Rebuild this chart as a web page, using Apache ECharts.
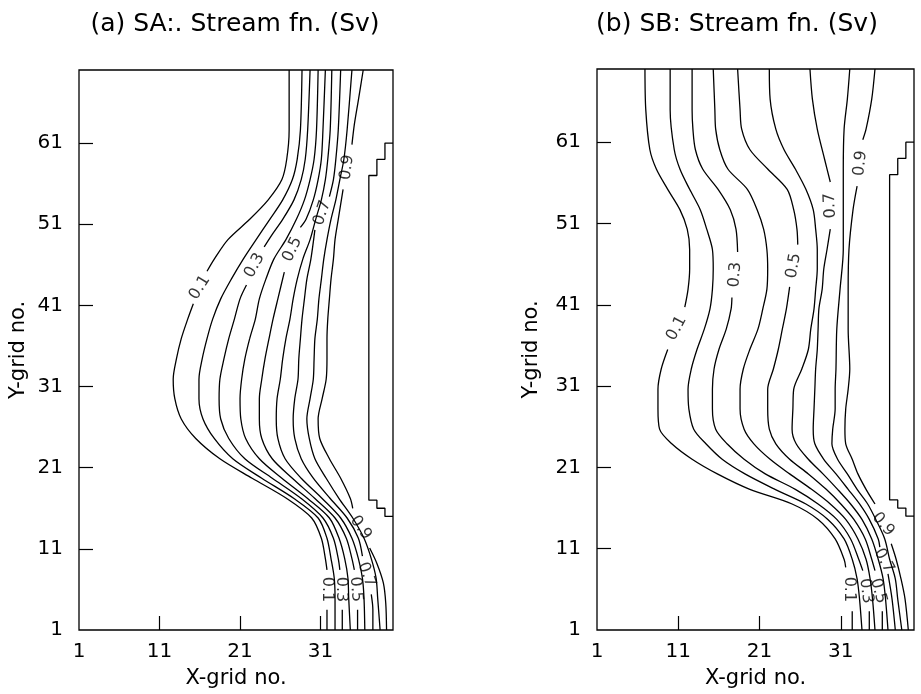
<!DOCTYPE html>
<html>
<head>
<meta charset="utf-8">
<title>Stream fn. (Sv)</title>
<script src="https://cdn.jsdelivr.net/npm/echarts@6/dist/echarts.min.js"></script>
<style>
  html, body { margin: 0; padding: 0; background: #fff; }
  #chart { width: 921px; height: 694px; }
</style>
</head>
<body>
<div id="chart"></div>
<script>
// axis ranges and tick labels (grid numbers)
const xRange = [1, 40];
const yRange = [1, 70];
const xTicks = [1, 11, 21, 31];
const yTicks = [1, 11, 21, 31, 41, 51, 61];

// contours of panel (a), [x, y] in grid numbers, null = gap for a label
const sa01 = [[27.1,70],[27.1,62.6],[26.8,59.0],[26.2,56.5],[24.5,54.0],[22.2,51.6],[19.5,49.1],[17.8,46.7],[16.9,45.2],null,[15.2,41.2],[14.5,39.3],[13.7,36.9],[13.1,34.4],[12.7,31.9],[12.9,29.5],[13.7,27.0],[15.5,24.6],[18.5,22.1],[22.5,19.7],[26.8,17.2],[29.9,14.8],[31.1,12.3],[31.6,9.8],[31.8,8.4],null,[31.8,3.5],[31.8,1]];
const sa02 = [[28.7,70],[28.5,62.6],[28.1,59.0],[27.5,56.5],[26.3,54.0],[24.7,51.6],[23.0,49.1],[21.4,46.7],[19.9,44.2],[18.6,41.8],[17.6,39.3],[16.9,36.9],[16.3,34.4],[15.9,31.9],[15.9,29.5],[16.4,27.0],[17.8,24.6],[20.1,22.1],[23.7,19.7],[27.7,17.2],[30.7,14.8],[31.8,12.3],[32.3,9.8],[32.7,7.4],[32.8,4.9],[32.8,1]];
const sa03 = [[29.7,70],[29.4,62.6],[29.1,59.0],[28.6,56.5],[27.7,54.0],[26.3,51.6],[24.9,49.6],[24.0,48.2],null,[21.8,43.5],[21.0,41.8],[20.3,39.3],[19.6,36.9],[19.0,34.4],[18.5,31.9],[18.4,29.5],[18.6,27.0],[19.6,24.6],[21.6,22.1],[25.0,19.7],[28.6,17.2],[31.3,14.8],[32.6,12.3],[33.2,9.8],[33.4,8.4],null,[33.7,3.5],[33.7,1]];
const sa04 = [[30.7,70],[30.5,62.6],[30.2,59.0],[29.7,56.5],[29.0,54.0],[28.0,51.6],[26.7,49.1],[25.2,46.7],[24.2,44.2],[23.4,41.8],[22.9,39.3],[22.2,36.9],[21.6,34.4],[21.2,31.9],[21.0,29.5],[21.1,27.0],[21.7,24.6],[23.4,22.1],[26.2,19.7],[29.4,17.2],[32.1,14.8],[33.3,12.3],[34.0,9.8],[34.4,7.4],[34.5,4.9],[34.7,1]];
const sa05 = [[31.6,70],[31.3,62.6],[31.1,59.0],[30.7,56.5],[30.1,54.0],[29.2,51.6],[28.5,50.6],null,[26.5,45.1],[25.7,41.8],[25.1,39.3],[24.6,36.9],[24.1,34.4],[23.7,31.9],[23.4,29.5],[23.4,27.0],[23.7,24.6],[25.0,22.1],[27.5,19.7],[30.3,17.2],[32.8,14.8],[34.2,12.3],[34.9,9.8],[35.2,8.4],null,[35.6,3.5],[35.6,1]];
const sa06 = [[32.4,70],[32.2,62.6],[31.9,59.0],[31.6,56.5],[31.1,54.0],[30.4,51.6],[29.7,49.1],[28.8,46.7],[28.1,44.2],[27.6,41.8],[27.2,39.3],[26.7,36.9],[26.3,34.4],[26.0,31.9],[25.6,29.5],[25.5,27.0],[25.7,24.6],[26.6,22.1],[28.6,19.7],[31.2,17.2],[33.5,14.8],[34.9,12.3],[35.7,9.8],[36.2,7.4],[36.4,4.9],[36.5,1]];
const sa07 = [[33.5,70],[33.2,62.6],[32.9,59.0],[32.6,56.5],[32.1,54.4],null,[30.3,50.3],[29.8,46.7],[29.3,44.2],[29.0,41.8],[28.7,39.3],[28.5,36.9],[28.3,34.4],[28.2,31.9],[27.8,29.5],[27.6,27.0],[27.8,24.6],[28.6,22.1],[30.1,19.7],[32.2,17.2],[34.3,14.8],[35.7,12.3],[36.2,10.1],null,[37.3,5.4],[37.5,3.5],[37.5,1]];
const sa08 = [[34.9,70],[34.3,62.6],[33.9,59.0],[33.4,56.5],[32.9,54.0],[32.3,51.6],[31.8,49.1],[31.4,46.7],[31.1,44.2],[30.8,41.8],[30.6,39.3],[30.3,36.9],[30.2,34.4],[30.1,31.9],[29.7,29.5],[29.3,27.0],[29.6,24.6],[30.3,22.1],[31.7,19.7],[33.3,17.2],[35.0,14.8],[36.4,12.3],[37.3,9.8],[37.9,7.4],[38.1,4.9],[38.4,1]];
const sa09 = [[36.3,70],[35.7,66.3],[35.2,63.3],[34.9,60.8],null,[33.8,55.3],[33.2,51.6],[32.8,49.1],[32.6,46.7],[32.3,44.2],[32.1,41.8],[31.9,39.3],[31.8,36.9],[31.8,34.4],[31.7,31.9],[31.2,29.5],[30.7,27.0],[30.9,24.6],[32.1,22.1],[33.5,19.7],[34.7,17.2],[35.0,16.0],null,[37.1,11.1],[38.0,9.2],[38.8,6.8],[39.1,4.3],[39.2,1]];

// contours of panel (b)
const sb01 = [[6.9,70],[7.0,65.0],[7.5,60.1],[8.3,57.7],[9.7,55.2],[11.2,52.7],[12.1,50.3],[12.4,47.8],[12.4,45.4],[12.2,42.9],[11.8,40.7],null,[9.7,35.5],[8.9,33.1],[8.5,30.6],[8.5,28.2],[8.7,25.7],[10.2,23.9],[12.7,22.0],[15.8,20.2],[19.8,18.3],[25.0,16.5],[28.2,14.6],[30.3,12.2],[31.4,9.7],[31.6,8.7],null,[32.4,3.3],[32.4,1]];
const sb02 = [[10.0,70],[10.0,65.0],[10.5,60.1],[11.2,57.7],[12.4,55.2],[13.7,52.7],[14.5,50.3],[15.2,47.8],[15.3,45.4],[15.2,42.9],[14.9,40.5],[14.2,38.0],[13.3,35.5],[12.6,33.1],[12.2,30.6],[12.3,28.2],[12.9,25.7],[14.4,23.9],[16.4,22.0],[19.2,20.2],[22.9,18.3],[26.7,16.5],[29.4,14.6],[31.4,12.2],[32.4,9.7],[33.0,7.3],[33.3,4.8],[33.6,1]];
const sb03 = [[12.7,70],[12.7,65.0],[12.8,62.6],[13.1,60.1],[14.0,57.7],[15.9,55.2],[17.4,52.7],[18.1,50.3],[18.3,47.5],null,[17.6,41.9],[17.5,40.5],[16.9,38.0],[16.0,35.5],[15.4,33.1],[15.2,30.6],[15.2,28.2],[15.6,25.7],[17.0,23.9],[19.1,22.0],[21.7,20.2],[25.4,18.3],[28.2,16.5],[30.5,14.6],[32.2,12.2],[33.2,9.7],[33.7,8.3],null,[34.5,3.3],[34.5,1]];
const sb04 = [[15.3,70],[15.5,65.0],[15.6,62.6],[16.1,60.1],[17.1,57.7],[19.5,55.2],[20.7,52.7],[21.5,50.3],[21.9,47.8],[22.0,45.4],[21.9,42.9],[21.4,40.5],[20.8,38.0],[19.8,35.5],[19.0,33.1],[18.6,30.6],[18.6,28.2],[19.1,25.7],[20.3,23.9],[22.3,22.0],[24.7,20.2],[27.4,18.3],[29.7,16.5],[31.6,14.6],[33.1,12.2],[34.1,9.7],[34.6,7.3],[34.9,4.8],[35.2,1]];
const sb05 = [[18.3,70],[18.6,65.0],[18.8,62.6],[19.8,60.1],[22.0,57.7],[24.4,55.2],[25.2,52.7],[25.6,50.3],[25.7,48.4],null,[24.7,43.2],[24.3,40.5],[23.8,38.0],[23.3,35.5],[22.7,33.1],[22.0,30.6],[22.0,28.2],[22.2,25.7],[23.0,23.9],[24.7,22.0],[27.0,20.2],[29.2,18.3],[31.0,16.5],[32.6,14.6],[34.0,12.2],[34.8,9.7],[35.2,8.3],null,[36.1,3.3],[36.1,1]];
const sb06 = [[22.2,70],[22.3,66.3],[23.0,62.6],[24.0,60.1],[25.4,57.7],[26.7,55.2],[27.6,52.7],[27.9,50.3],[28.1,47.8],[28.1,45.4],[27.9,42.9],[27.7,40.5],[27.3,38.0],[27.0,35.5],[26.2,33.1],[25.2,30.6],[25.1,28.2],[25.0,25.7],[25.5,23.9],[27.0,22.0],[28.8,20.2],[30.6,18.3],[32.2,16.5],[33.6,14.6],[34.8,12.2],[35.6,9.7],[36.2,7.3],[36.5,4.8],[36.8,1]];
const sb07 = [[27.2,70],[27.5,66.3],[28.1,62.6],[29.0,58.9],[29.7,56.1],null,[29.7,50.3],[29.3,47.8],[28.9,45.4],[28.7,42.9],[28.3,40.5],[28.2,38.0],[28.1,35.5],[27.9,33.1],[27.8,30.6],[27.7,28.2],[27.6,25.7],[27.8,23.9],[28.9,22.0],[30.4,20.2],[31.9,18.3],[33.3,16.5],[34.5,14.6],[35.6,12.2],[35.8,11.2],null,[36.8,7.9],[37.3,4.8],[37.7,1]];
const sb08 = [[32.1,70],[31.8,66.3],[31.4,62.6],[31.3,57.7],[31.3,52.7],[31.3,47.8],[30.9,42.9],[30.5,38.0],[30.4,33.1],[30.3,30.6],[30.3,28.2],[30.0,25.7],[29.9,23.9],[30.6,22.0],[31.8,20.2],[33.0,18.3],[34.3,16.5],[35.3,14.6],[36.4,12.2],[37.0,9.7],[37.7,7.3],[38.0,4.8],[38.5,1]];
const sb09 = [[35.2,70],[34.8,66.3],[34.1,62.6],[33.7,61.3],null,[33.0,55.6],[32.5,52.7],[32.0,47.8],[31.9,42.9],[31.9,38.0],[32.1,33.1],[31.9,30.6],[31.6,28.2],[31.5,25.7],[31.6,23.9],[32.4,22.0],[33.1,20.2],[34.1,18.3],[35.2,16.5],null,[37.2,11.6],[37.8,9.7],[38.4,7.3],[38.9,4.8],[39.3,1]];

// land boundary (step line) on the east side
const coastA = [[40,61],[39,61],[39,59],[38,59],[38,57],[37,57],[37,17],[38,17],[38,16],[39,16],[39,15],[40,15]];
const coastB = [[40,61],[39,61],[39,59],[38,59],[38,57],[37,57],[37,17],[38,17],[38,16],[39,16],[39,15],[40,15]];

// contour labels: text, x, y, angle
const labelsA = [['0.1',16.0,43.2,58],['0.3',22.8,45.9,62],['0.5',27.5,47.9,65],['0.7',31.2,52.4,72],['0.9',34.3,58.0,82],
  ['0.9',36.0,13.6,-55],['0.7',36.7,7.8,-70],['0.1',31.8,6.0,-90],['0.3',33.5,6.0,-90],['0.5',35.4,6.0,-85]];
const labelsB = [['0.1',10.8,38.1,62],['0.3',18.0,44.7,85],['0.5',25.2,45.8,80],['0.7',29.7,53.2,92],['0.9',33.4,58.4,83],
  ['0.9',36.2,14.0,-50],['0.7',36.3,9.5,-62],['0.1',32.0,6.0,-90],['0.3',34.1,5.8,-82],['0.5',35.6,5.8,-75]];

const FONT = 'DejaVu Sans';
const linesA = [sa01, sa02, sa03, sa04, sa05, sa06, sa07, sa08, sa09];
const linesB = [sb01, sb02, sb03, sb04, sb05, sb06, sb07, sb08, sb09];

function segments(points) {
  const out = [];
  let cur = [];
  points.forEach(p => {
    if (p === null) {
      if (cur.length) out.push(cur);
      cur = [];
    } else {
      cur.push(p);
    }
  });
  if (cur.length) out.push(cur);
  return out;
}

function lineSeries(data, idx, smooth) {
  return {
    type: 'line', xAxisIndex: idx, yAxisIndex: idx, data: data,
    symbol: 'none', smooth: smooth, silent: true, animation: false,
    lineStyle: { color: '#000', width: 1.3 }
  };
}

function panelSeries(lines, coast, labels, idx) {
  const list = [];
  lines.forEach(line => {
    segments(line).forEach(seg => list.push(lineSeries(seg, idx, 0.3)));
  });
  list.push(lineSeries(coast, idx, false));
  list.push({
    type: 'scatter', xAxisIndex: idx, yAxisIndex: idx, symbolSize: 0, silent: true, animation: false,
    data: labels.map(l => ({ name: l[0], value: [l[1], l[2]], label: { rotate: l[3] } })),
    label: { show: true, position: 'inside', formatter: '{b}', color: '#000', fontSize: 16, fontFamily: FONT }
  });
  return list;
}

function xAxis(idx) {
  return {
    gridIndex: idx, type: 'value', min: xRange[0], max: xRange[1], interval: 10,
    name: 'X-grid no.', nameLocation: 'middle', nameGap: 38,
    nameTextStyle: { color: '#000', fontSize: 21, fontFamily: FONT },
    axisLine: { show: false },
    axisTick: { inside: true, length: 14, customValues: xTicks.slice(1),
      lineStyle: { color: '#000', width: 1.2 } },
    axisLabel: { margin: 12, color: '#000', fontSize: 20, fontFamily: FONT, customValues: xTicks },
    splitLine: { show: false }
  };
}

function yAxis(idx, gap) {
  return {
    gridIndex: idx, type: 'value', min: yRange[0], max: yRange[1], interval: 10,
    name: 'Y-grid no.', nameLocation: 'middle', nameGap: gap, nameRotate: 90,
    nameTextStyle: { color: '#000', fontSize: 21, fontFamily: FONT },
    axisLine: { show: false },
    axisTick: { inside: true, length: 14, customValues: yTicks.slice(1),
      lineStyle: { color: '#000', width: 1.2 } },
    axisLabel: { margin: 16, color: '#000', fontSize: 20, fontFamily: FONT, customValues: yTicks },
    splitLine: { show: false }
  };
}

function titleText(text, x) {
  return {
    type: 'text', x: x, y: 24, silent: true,
    style: { text: text, fill: '#000', font: '25px "DejaVu Sans"', align: 'center', verticalAlign: 'middle' }
  };
}

const chart = echarts.init(document.getElementById('chart'));
chart.setOption({
  backgroundColor: '#fff',
  animation: false,
  graphic: [
    titleText('(a) SA:. Stream fn. (Sv)', 235),
    titleText('(b) SB: Stream fn. (Sv)', 737)
  ],
  grid: [
    { left: 79, top: 70, width: 314, height: 562, show: true, borderColor: '#000', borderWidth: 1.3 },
    { left: 597, top: 69, width: 317, height: 562, show: true, borderColor: '#000', borderWidth: 1.3 }
  ],
  xAxis: [xAxis(0), xAxis(1)],
  yAxis: [yAxis(0, 50), yAxis(1, 55)],
  series: panelSeries(linesA, coastA, labelsA, 0).concat(panelSeries(linesB, coastB, labelsB, 1))
});
</script>
</body>
</html>
